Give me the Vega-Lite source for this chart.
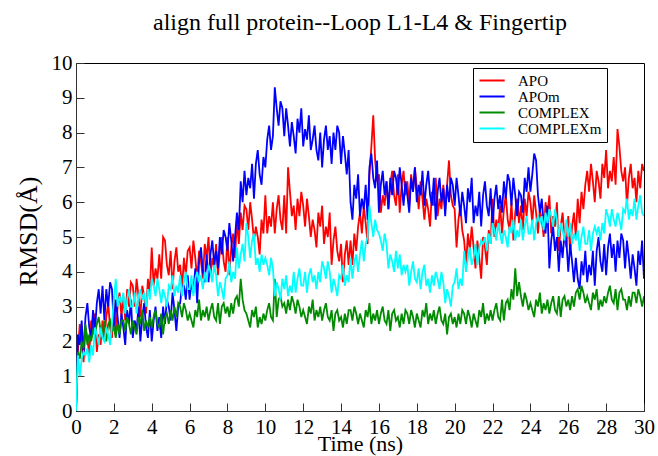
{
  "$schema": "https://vega.github.io/schema/vega-lite/v6.json",
  "width": 568,
  "height": 348,
  "autosize": "none",
  "padding": {"left": 76, "top": 63, "right": 14, "bottom": 45},
  "title": {
    "text": "align full protein--Loop L1-L4 & Fingertip",
    "font": "Liberation Serif",
    "fontSize": 24,
    "fontWeight": "normal",
    "color": "black",
    "anchor": "middle",
    "frame": "group",
    "offset": 17
  },
  "config": {
    "view": {"stroke": "black", "strokeWidth": 1},
    "axis": {
      "grid": false,
      "domainColor": "#333",
      "tickColor": "#333",
      "tickSize": -8,
      "labelFont": "Liberation Serif",
      "labelFontSize": 21,
      "labelColor": "black",
      "titleFont": "Liberation Serif",
      "titleFontWeight": "normal",
      "titleColor": "black"
    }
  },
  "data": {
    "values": [
      {"t":0,"APO":0,"APOm":0,"COMPLEX":0,"COMPLEXm":0},
      {"t":0.1,"APO":1.7,"APOm":2.2,"COMPLEX":1.7,"COMPLEXm":1.6},
      {"t":0.2,"APO":2.5,"APOm":1.9,"COMPLEX":1.5,"COMPLEXm":1.0},
      {"t":0.3,"APO":2.0,"APOm":2.6,"COMPLEX":2.0,"COMPLEXm":1.5},
      {"t":0.4,"APO":1.4,"APOm":1.6,"COMPLEX":1.8,"COMPLEXm":1.7},
      {"t":0.5,"APO":2.4,"APOm":2.7,"COMPLEX":2.5,"COMPLEXm":1.6},
      {"t":0.6,"APO":2.1,"APOm":3.1,"COMPLEX":1.9,"COMPLEXm":1.8},
      {"t":0.7,"APO":1.6,"APOm":2.4,"COMPLEX":2.2,"COMPLEXm":1.4},
      {"t":0.8,"APO":2.6,"APOm":2.1,"COMPLEX":2.0,"COMPLEXm":1.9},
      {"t":0.9,"APO":2.2,"APOm":2.9,"COMPLEX":2.3,"COMPLEXm":1.6},
      {"t":1.0,"APO":2.8,"APOm":2.3,"COMPLEX":2.2,"COMPLEXm":2.4},
      {"t":1.1,"APO":1.7,"APOm":3.1,"COMPLEX":2.5,"COMPLEXm":2.2},
      {"t":1.2,"APO":2.2,"APOm":3.5,"COMPLEX":2.7,"COMPLEXm":1.9},
      {"t":1.3,"APO":1.9,"APOm":2.8,"COMPLEX":2.3,"COMPLEXm":2.4},
      {"t":1.4,"APO":2.6,"APOm":3.6,"COMPLEX":2.2,"COMPLEXm":2.1},
      {"t":1.5,"APO":2.0,"APOm":2.6,"COMPLEX":2.6,"COMPLEXm":2.0},
      {"t":1.6,"APO":2.7,"APOm":3.5,"COMPLEX":2.0,"COMPLEXm":2.4},
      {"t":1.7,"APO":3.1,"APOm":3.0,"COMPLEX":2.5,"COMPLEXm":2.2},
      {"t":1.8,"APO":2.4,"APOm":3.7,"COMPLEX":2.6,"COMPLEXm":1.9},
      {"t":1.9,"APO":2.1,"APOm":3.5,"COMPLEX":2.3,"COMPLEXm":2.5},
      {"t":2.0,"APO":3.3,"APOm":2.4,"COMPLEX":2.4,"COMPLEXm":3.2},
      {"t":2.1,"APO":2.2,"APOm":3.2,"COMPLEX":2.1,"COMPLEXm":3.8},
      {"t":2.2,"APO":3.0,"APOm":2.7,"COMPLEX":2.5,"COMPLEXm":3.0},
      {"t":2.3,"APO":3.4,"APOm":2.1,"COMPLEX":2.2,"COMPLEXm":3.3},
      {"t":2.4,"APO":2.7,"APOm":2.8,"COMPLEX":2.6,"COMPLEXm":3.1},
      {"t":2.5,"APO":3.3,"APOm":2.4,"COMPLEX":2.6,"COMPLEXm":3.4},
      {"t":2.6,"APO":2.6,"APOm":1.9,"COMPLEX":2.3,"COMPLEXm":2.8},
      {"t":2.7,"APO":3.5,"APOm":2.9,"COMPLEX":2.7,"COMPLEXm":3.2},
      {"t":2.8,"APO":3.0,"APOm":2.5,"COMPLEX":2.5,"COMPLEXm":3.5},
      {"t":2.9,"APO":3.7,"APOm":3.2,"COMPLEX":2.2,"COMPLEXm":3.0},
      {"t":3.0,"APO":3.6,"APOm":2.1,"COMPLEX":2.6,"COMPLEXm":3.0},
      {"t":3.1,"APO":3.0,"APOm":2.6,"COMPLEX":2.4,"COMPLEXm":3.4},
      {"t":3.2,"APO":3.8,"APOm":2.3,"COMPLEX":2.2,"COMPLEXm":2.8},
      {"t":3.3,"APO":3.3,"APOm":3.0,"COMPLEX":2.7,"COMPLEXm":3.3},
      {"t":3.4,"APO":2.7,"APOm":2.0,"COMPLEX":2.5,"COMPLEXm":3.5},
      {"t":3.5,"APO":3.6,"APOm":2.7,"COMPLEX":2.9,"COMPLEXm":3.2},
      {"t":3.6,"APO":3.3,"APOm":3.1,"COMPLEX":2.3,"COMPLEXm":3.4},
      {"t":3.7,"APO":2.8,"APOm":2.4,"COMPLEX":2.6,"COMPLEXm":3.0},
      {"t":3.8,"APO":3.8,"APOm":2.1,"COMPLEX":2.4,"COMPLEXm":3.5},
      {"t":3.9,"APO":3.4,"APOm":2.9,"COMPLEX":2.7,"COMPLEXm":3.2},
      {"t":4.0,"APO":4.7,"APOm":2.0,"COMPLEX":2.4,"COMPLEXm":3.8},
      {"t":4.1,"APO":3.6,"APOm":2.6,"COMPLEX":2.7,"COMPLEXm":3.6},
      {"t":4.2,"APO":4.1,"APOm":3.0,"COMPLEX":2.9,"COMPLEXm":3.3},
      {"t":4.3,"APO":3.8,"APOm":2.3,"COMPLEX":2.5,"COMPLEXm":3.8},
      {"t":4.4,"APO":4.5,"APOm":2.7,"COMPLEX":2.4,"COMPLEXm":3.5},
      {"t":4.5,"APO":3.8,"APOm":2.1,"COMPLEX":2.8,"COMPLEXm":3.1},
      {"t":4.6,"APO":5.0,"APOm":3.0,"COMPLEX":2.2,"COMPLEXm":3.5},
      {"t":4.7,"APO":4.9,"APOm":2.5,"COMPLEX":2.7,"COMPLEXm":3.3},
      {"t":4.8,"APO":4.2,"APOm":3.2,"COMPLEX":2.8,"COMPLEXm":3.0},
      {"t":4.9,"APO":3.9,"APOm":3.0,"COMPLEX":2.5,"COMPLEXm":3.6},
      {"t":5.0,"APO":4.6,"APOm":2.6,"COMPLEX":2.9,"COMPLEXm":3.5},
      {"t":5.1,"APO":3.5,"APOm":3.4,"COMPLEX":2.6,"COMPLEXm":3.9},
      {"t":5.2,"APO":4.3,"APOm":2.9,"COMPLEX":3.0,"COMPLEXm":3.3},
      {"t":5.3,"APO":4.7,"APOm":2.3,"COMPLEX":2.7,"COMPLEXm":3.6},
      {"t":5.4,"APO":4.0,"APOm":3.0,"COMPLEX":3.1,"COMPLEXm":3.4},
      {"t":5.5,"APO":4.2,"APOm":3.1,"COMPLEX":3.0,"COMPLEXm":3.9},
      {"t":5.6,"APO":3.5,"APOm":3.6,"COMPLEX":2.7,"COMPLEXm":3.3},
      {"t":5.7,"APO":4.4,"APOm":3.6,"COMPLEX":3.1,"COMPLEXm":3.7},
      {"t":5.8,"APO":3.9,"APOm":3.2,"COMPLEX":2.9,"COMPLEXm":4.0},
      {"t":5.9,"APO":4.6,"APOm":3.9,"COMPLEX":2.6,"COMPLEXm":3.5},
      {"t":6.0,"APO":4.7,"APOm":3.2,"COMPLEX":2.8,"COMPLEXm":3.5},
      {"t":6.1,"APO":4.1,"APOm":3.7,"COMPLEX":2.6,"COMPLEXm":3.9},
      {"t":6.2,"APO":4.9,"APOm":3.4,"COMPLEX":2.4,"COMPLEXm":3.3},
      {"t":6.3,"APO":4.4,"APOm":4.1,"COMPLEX":2.9,"COMPLEXm":3.8},
      {"t":6.4,"APO":3.8,"APOm":3.1,"COMPLEX":2.7,"COMPLEXm":4.0},
      {"t":6.5,"APO":4.6,"APOm":4.3,"COMPLEX":3.2,"COMPLEXm":3.7},
      {"t":6.6,"APO":4.3,"APOm":4.7,"COMPLEX":2.6,"COMPLEXm":3.9},
      {"t":6.7,"APO":3.8,"APOm":4.0,"COMPLEX":2.9,"COMPLEXm":3.5},
      {"t":6.8,"APO":4.8,"APOm":3.7,"COMPLEX":2.7,"COMPLEXm":4.0},
      {"t":6.9,"APO":4.4,"APOm":4.5,"COMPLEX":3.0,"COMPLEXm":3.7},
      {"t":7.0,"APO":5.0,"APOm":3.7,"COMPLEX":2.6,"COMPLEXm":4.2},
      {"t":7.1,"APO":3.9,"APOm":4.5,"COMPLEX":2.9,"COMPLEXm":4.0},
      {"t":7.2,"APO":4.4,"APOm":4.9,"COMPLEX":3.1,"COMPLEXm":3.7},
      {"t":7.3,"APO":4.1,"APOm":4.2,"COMPLEX":2.7,"COMPLEXm":4.2},
      {"t":7.4,"APO":4.8,"APOm":4.6,"COMPLEX":2.6,"COMPLEXm":3.9},
      {"t":7.5,"APO":3.9,"APOm":4.1,"COMPLEX":3.1,"COMPLEXm":3.3},
      {"t":7.6,"APO":4.6,"APOm":5.0,"COMPLEX":2.5,"COMPLEXm":3.7},
      {"t":7.7,"APO":5.0,"APOm":4.5,"COMPLEX":3.0,"COMPLEXm":3.5},
      {"t":7.8,"APO":4.3,"APOm":5.2,"COMPLEX":3.1,"COMPLEXm":3.2},
      {"t":7.9,"APO":4.0,"APOm":5.0,"COMPLEX":2.8,"COMPLEXm":3.8},
      {"t":8.0,"APO":5.0,"APOm":4.6,"COMPLEX":3.0,"COMPLEXm":3.9},
      {"t":8.1,"APO":3.9,"APOm":5.4,"COMPLEX":2.7,"COMPLEXm":4.3},
      {"t":8.2,"APO":4.7,"APOm":4.9,"COMPLEX":3.1,"COMPLEXm":3.7},
      {"t":8.3,"APO":5.1,"APOm":4.3,"COMPLEX":2.8,"COMPLEXm":4.0},
      {"t":8.4,"APO":4.4,"APOm":5.0,"COMPLEX":3.2,"COMPLEXm":3.8},
      {"t":8.5,"APO":5.5,"APOm":5.7,"COMPLEX":3.3,"COMPLEXm":4.7},
      {"t":8.6,"APO":4.8,"APOm":5.2,"COMPLEX":3.0,"COMPLEXm":4.1},
      {"t":8.7,"APO":5.7,"APOm":6.6,"COMPLEX":3.8,"COMPLEXm":4.5},
      {"t":8.8,"APO":5.2,"APOm":6.0,"COMPLEX":3.2,"COMPLEXm":4.8},
      {"t":8.9,"APO":5.9,"APOm":6.9,"COMPLEX":2.9,"COMPLEXm":4.3},
      {"t":9.0,"APO":5.8,"APOm":6.2,"COMPLEX":2.8,"COMPLEXm":5.4},
      {"t":9.1,"APO":5.2,"APOm":6.7,"COMPLEX":2.6,"COMPLEXm":5.0},
      {"t":9.2,"APO":6.0,"APOm":6.4,"COMPLEX":2.4,"COMPLEXm":4.4},
      {"t":9.3,"APO":5.5,"APOm":7.1,"COMPLEX":2.9,"COMPLEXm":4.9},
      {"t":9.4,"APO":4.9,"APOm":6.1,"COMPLEX":2.7,"COMPLEXm":5.1},
      {"t":9.5,"APO":5.3,"APOm":7.1,"COMPLEX":3.0,"COMPLEXm":4.2},
      {"t":9.6,"APO":5.0,"APOm":7.5,"COMPLEX":2.4,"COMPLEXm":4.4},
      {"t":9.7,"APO":4.5,"APOm":6.8,"COMPLEX":2.7,"COMPLEXm":4.0},
      {"t":9.8,"APO":5.5,"APOm":6.5,"COMPLEX":2.5,"COMPLEXm":4.5},
      {"t":9.9,"APO":5.1,"APOm":7.3,"COMPLEX":2.8,"COMPLEXm":4.2},
      {"t":10.0,"APO":6.2,"APOm":7.0,"COMPLEX":2.6,"COMPLEXm":4.4},
      {"t":10.1,"APO":5.1,"APOm":7.8,"COMPLEX":2.9,"COMPLEXm":4.2},
      {"t":10.2,"APO":5.6,"APOm":8.2,"COMPLEX":3.1,"COMPLEXm":3.9},
      {"t":10.3,"APO":5.3,"APOm":7.5,"COMPLEX":2.7,"COMPLEXm":4.4},
      {"t":10.4,"APO":6.0,"APOm":7.9,"COMPLEX":2.6,"COMPLEXm":4.1},
      {"t":10.5,"APO":5.1,"APOm":9.3,"COMPLEX":3.8,"COMPLEXm":3.3},
      {"t":10.6,"APO":5.8,"APOm":8.7,"COMPLEX":2.7,"COMPLEXm":3.7},
      {"t":10.7,"APO":6.2,"APOm":8.2,"COMPLEX":3.2,"COMPLEXm":3.5},
      {"t":10.8,"APO":5.5,"APOm":8.9,"COMPLEX":3.3,"COMPLEXm":3.2},
      {"t":10.9,"APO":5.2,"APOm":8.7,"COMPLEX":3.0,"COMPLEXm":3.8},
      {"t":11.0,"APO":6.2,"APOm":7.9,"COMPLEX":3.1,"COMPLEXm":3.5},
      {"t":11.1,"APO":5.1,"APOm":8.7,"COMPLEX":2.8,"COMPLEXm":3.9},
      {"t":11.2,"APO":7.0,"APOm":8.2,"COMPLEX":3.2,"COMPLEXm":3.3},
      {"t":11.3,"APO":6.3,"APOm":7.6,"COMPLEX":2.9,"COMPLEXm":3.6},
      {"t":11.4,"APO":5.6,"APOm":8.3,"COMPLEX":3.3,"COMPLEXm":3.4},
      {"t":11.5,"APO":5.9,"APOm":7.9,"COMPLEX":3.1,"COMPLEXm":4.0},
      {"t":11.6,"APO":5.2,"APOm":7.4,"COMPLEX":2.8,"COMPLEXm":3.4},
      {"t":11.7,"APO":6.1,"APOm":8.4,"COMPLEX":3.2,"COMPLEXm":3.8},
      {"t":11.8,"APO":5.6,"APOm":8.0,"COMPLEX":3.0,"COMPLEXm":4.1},
      {"t":11.9,"APO":6.3,"APOm":8.7,"COMPLEX":2.7,"COMPLEXm":3.6},
      {"t":12.0,"APO":5.9,"APOm":7.6,"COMPLEX":2.9,"COMPLEXm":3.6},
      {"t":12.1,"APO":5.3,"APOm":8.1,"COMPLEX":2.7,"COMPLEXm":4.0},
      {"t":12.2,"APO":6.1,"APOm":7.8,"COMPLEX":2.5,"COMPLEXm":3.4},
      {"t":12.3,"APO":5.6,"APOm":8.5,"COMPLEX":3.0,"COMPLEXm":3.9},
      {"t":12.4,"APO":5.0,"APOm":7.5,"COMPLEX":2.8,"COMPLEXm":4.1},
      {"t":12.5,"APO":5.5,"APOm":7.8,"COMPLEX":3.2,"COMPLEXm":3.7},
      {"t":12.6,"APO":5.2,"APOm":8.2,"COMPLEX":2.6,"COMPLEXm":3.9},
      {"t":12.7,"APO":4.7,"APOm":7.5,"COMPLEX":2.9,"COMPLEXm":3.5},
      {"t":12.8,"APO":5.7,"APOm":7.2,"COMPLEX":2.7,"COMPLEXm":4.0},
      {"t":12.9,"APO":5.3,"APOm":8.0,"COMPLEX":3.0,"COMPLEXm":3.7},
      {"t":13.0,"APO":5.9,"APOm":7.0,"COMPLEX":2.6,"COMPLEXm":4.3},
      {"t":13.1,"APO":4.8,"APOm":7.8,"COMPLEX":2.9,"COMPLEXm":4.1},
      {"t":13.2,"APO":5.3,"APOm":8.2,"COMPLEX":3.1,"COMPLEXm":3.8},
      {"t":13.3,"APO":5.0,"APOm":7.5,"COMPLEX":2.7,"COMPLEXm":4.3},
      {"t":13.4,"APO":5.7,"APOm":7.9,"COMPLEX":2.6,"COMPLEXm":4.0},
      {"t":13.5,"APO":4.2,"APOm":7.1,"COMPLEX":2.9,"COMPLEXm":3.4},
      {"t":13.6,"APO":4.9,"APOm":8.0,"COMPLEX":2.3,"COMPLEXm":3.8},
      {"t":13.7,"APO":5.3,"APOm":7.5,"COMPLEX":2.8,"COMPLEXm":3.6},
      {"t":13.8,"APO":4.6,"APOm":8.2,"COMPLEX":2.9,"COMPLEXm":3.3},
      {"t":13.9,"APO":4.3,"APOm":8.0,"COMPLEX":2.6,"COMPLEXm":3.9},
      {"t":14.0,"APO":4.8,"APOm":7.1,"COMPLEX":2.7,"COMPLEXm":3.8},
      {"t":14.1,"APO":3.7,"APOm":7.9,"COMPLEX":2.4,"COMPLEXm":4.2},
      {"t":14.2,"APO":4.5,"APOm":7.4,"COMPLEX":2.8,"COMPLEXm":3.6},
      {"t":14.3,"APO":4.9,"APOm":6.8,"COMPLEX":2.5,"COMPLEXm":3.9},
      {"t":14.4,"APO":4.2,"APOm":7.5,"COMPLEX":2.9,"COMPLEXm":3.7},
      {"t":14.5,"APO":4.9,"APOm":6.0,"COMPLEX":2.9,"COMPLEXm":4.4},
      {"t":14.6,"APO":4.2,"APOm":5.5,"COMPLEX":2.6,"COMPLEXm":3.8},
      {"t":14.7,"APO":5.1,"APOm":6.5,"COMPLEX":3.0,"COMPLEXm":4.3},
      {"t":14.8,"APO":4.6,"APOm":6.1,"COMPLEX":2.8,"COMPLEXm":4.5},
      {"t":14.9,"APO":5.3,"APOm":6.8,"COMPLEX":2.5,"COMPLEXm":4.0},
      {"t":15.0,"APO":5.7,"APOm":5.6,"COMPLEX":2.8,"COMPLEXm":4.5},
      {"t":15.1,"APO":5.1,"APOm":6.1,"COMPLEX":2.6,"COMPLEXm":4.9},
      {"t":15.2,"APO":5.9,"APOm":5.8,"COMPLEX":2.4,"COMPLEXm":4.3},
      {"t":15.3,"APO":5.4,"APOm":6.5,"COMPLEX":2.9,"COMPLEXm":4.8},
      {"t":15.4,"APO":4.8,"APOm":5.5,"COMPLEX":2.7,"COMPLEXm":5.0},
      {"t":15.5,"APO":6.8,"APOm":7.0,"COMPLEX":3.1,"COMPLEXm":5.9},
      {"t":15.6,"APO":7.6,"APOm":7.4,"COMPLEX":2.5,"COMPLEXm":5.4},
      {"t":15.7,"APO":8.5,"APOm":6.7,"COMPLEX":2.8,"COMPLEXm":5.0},
      {"t":15.8,"APO":7.2,"APOm":6.4,"COMPLEX":2.6,"COMPLEXm":5.5},
      {"t":15.9,"APO":6.6,"APOm":7.2,"COMPLEX":2.9,"COMPLEXm":5.2},
      {"t":16.0,"APO":6.8,"APOm":5.7,"COMPLEX":2.5,"COMPLEXm":5.1},
      {"t":16.1,"APO":5.7,"APOm":6.5,"COMPLEX":2.8,"COMPLEXm":4.9},
      {"t":16.2,"APO":6.2,"APOm":6.9,"COMPLEX":3.0,"COMPLEXm":4.6},
      {"t":16.3,"APO":5.9,"APOm":6.2,"COMPLEX":2.6,"COMPLEXm":5.1},
      {"t":16.4,"APO":6.6,"APOm":6.6,"COMPLEX":2.5,"COMPLEXm":4.8},
      {"t":16.5,"APO":5.8,"APOm":5.8,"COMPLEX":2.9,"COMPLEXm":4.1},
      {"t":16.6,"APO":6.5,"APOm":6.7,"COMPLEX":2.3,"COMPLEXm":4.5},
      {"t":16.7,"APO":6.9,"APOm":6.2,"COMPLEX":2.8,"COMPLEXm":4.3},
      {"t":16.8,"APO":6.2,"APOm":6.9,"COMPLEX":2.9,"COMPLEXm":4.0},
      {"t":16.9,"APO":5.9,"APOm":6.7,"COMPLEX":2.6,"COMPLEXm":4.6},
      {"t":17.0,"APO":6.8,"APOm":6.2,"COMPLEX":2.7,"COMPLEXm":4.1},
      {"t":17.1,"APO":5.7,"APOm":7.0,"COMPLEX":2.4,"COMPLEXm":4.5},
      {"t":17.2,"APO":6.5,"APOm":6.5,"COMPLEX":2.8,"COMPLEXm":3.9},
      {"t":17.3,"APO":6.9,"APOm":5.9,"COMPLEX":2.5,"COMPLEXm":4.2},
      {"t":17.4,"APO":6.2,"APOm":6.6,"COMPLEX":2.9,"COMPLEXm":4.0},
      {"t":17.5,"APO":6.6,"APOm":6.2,"COMPLEX":2.8,"COMPLEXm":4.2},
      {"t":17.6,"APO":5.9,"APOm":5.7,"COMPLEX":2.5,"COMPLEXm":3.6},
      {"t":17.7,"APO":6.8,"APOm":6.7,"COMPLEX":2.9,"COMPLEXm":4.0},
      {"t":17.8,"APO":6.3,"APOm":6.3,"COMPLEX":2.7,"COMPLEXm":4.3},
      {"t":17.9,"APO":7.0,"APOm":7.0,"COMPLEX":2.4,"COMPLEXm":3.8},
      {"t":18.0,"APO":6.4,"APOm":6.0,"COMPLEX":2.8,"COMPLEXm":3.7},
      {"t":18.1,"APO":5.8,"APOm":6.5,"COMPLEX":2.6,"COMPLEXm":4.1},
      {"t":18.2,"APO":6.6,"APOm":6.2,"COMPLEX":2.4,"COMPLEXm":3.5},
      {"t":18.3,"APO":6.1,"APOm":6.9,"COMPLEX":2.9,"COMPLEXm":4.0},
      {"t":18.4,"APO":5.5,"APOm":5.9,"COMPLEX":2.7,"COMPLEXm":4.2},
      {"t":18.5,"APO":6.1,"APOm":6.5,"COMPLEX":3.1,"COMPLEXm":3.6},
      {"t":18.6,"APO":5.8,"APOm":6.9,"COMPLEX":2.5,"COMPLEXm":3.8},
      {"t":18.7,"APO":5.3,"APOm":6.2,"COMPLEX":2.8,"COMPLEXm":3.4},
      {"t":18.8,"APO":6.3,"APOm":5.9,"COMPLEX":2.6,"COMPLEXm":3.9},
      {"t":18.9,"APO":5.9,"APOm":6.7,"COMPLEX":2.9,"COMPLEXm":3.6},
      {"t":19.0,"APO":6.7,"APOm":5.5,"COMPLEX":2.5,"COMPLEXm":4.0},
      {"t":19.1,"APO":5.6,"APOm":6.3,"COMPLEX":2.8,"COMPLEXm":3.8},
      {"t":19.2,"APO":6.1,"APOm":6.7,"COMPLEX":3.0,"COMPLEXm":3.5},
      {"t":19.3,"APO":5.8,"APOm":6.0,"COMPLEX":2.6,"COMPLEXm":4.0},
      {"t":19.4,"APO":6.5,"APOm":6.4,"COMPLEX":2.5,"COMPLEXm":3.7},
      {"t":19.5,"APO":5.8,"APOm":5.6,"COMPLEX":2.8,"COMPLEXm":3.1},
      {"t":19.6,"APO":6.5,"APOm":6.5,"COMPLEX":2.2,"COMPLEXm":3.5},
      {"t":19.7,"APO":7.2,"APOm":6.0,"COMPLEX":2.7,"COMPLEXm":3.3},
      {"t":19.8,"APO":6.2,"APOm":6.7,"COMPLEX":2.8,"COMPLEXm":3.0},
      {"t":19.9,"APO":5.9,"APOm":6.5,"COMPLEX":2.5,"COMPLEXm":3.6},
      {"t":20.0,"APO":5.8,"APOm":5.9,"COMPLEX":2.7,"COMPLEXm":3.7},
      {"t":20.1,"APO":4.7,"APOm":6.7,"COMPLEX":2.4,"COMPLEXm":4.1},
      {"t":20.2,"APO":5.5,"APOm":6.2,"COMPLEX":2.8,"COMPLEXm":3.5},
      {"t":20.3,"APO":5.9,"APOm":5.6,"COMPLEX":2.5,"COMPLEXm":3.8},
      {"t":20.4,"APO":5.2,"APOm":6.3,"COMPLEX":2.9,"COMPLEXm":3.6},
      {"t":20.5,"APO":4.9,"APOm":5.9,"COMPLEX":2.8,"COMPLEXm":4.6},
      {"t":20.6,"APO":4.2,"APOm":5.4,"COMPLEX":2.5,"COMPLEXm":4.0},
      {"t":20.7,"APO":5.1,"APOm":6.4,"COMPLEX":2.9,"COMPLEXm":4.4},
      {"t":20.8,"APO":4.6,"APOm":6.0,"COMPLEX":2.7,"COMPLEXm":4.7},
      {"t":20.9,"APO":5.3,"APOm":6.7,"COMPLEX":2.4,"COMPLEXm":4.2},
      {"t":21.0,"APO":4.7,"APOm":5.4,"COMPLEX":2.8,"COMPLEXm":4.4},
      {"t":21.1,"APO":4.1,"APOm":5.9,"COMPLEX":2.6,"COMPLEXm":4.8},
      {"t":21.2,"APO":4.9,"APOm":5.6,"COMPLEX":2.4,"COMPLEXm":4.2},
      {"t":21.3,"APO":4.4,"APOm":6.3,"COMPLEX":2.9,"COMPLEXm":4.7},
      {"t":21.4,"APO":3.8,"APOm":5.3,"COMPLEX":2.7,"COMPLEXm":4.9},
      {"t":21.5,"APO":5.0,"APOm":6.2,"COMPLEX":3.1,"COMPLEXm":4.8},
      {"t":21.6,"APO":4.7,"APOm":6.6,"COMPLEX":2.5,"COMPLEXm":5.0},
      {"t":21.7,"APO":4.2,"APOm":5.9,"COMPLEX":2.8,"COMPLEXm":4.6},
      {"t":21.8,"APO":5.2,"APOm":5.6,"COMPLEX":2.6,"COMPLEXm":5.1},
      {"t":21.9,"APO":4.8,"APOm":6.4,"COMPLEX":2.9,"COMPLEXm":4.8},
      {"t":22.0,"APO":6.1,"APOm":5.3,"COMPLEX":2.6,"COMPLEXm":5.4},
      {"t":22.1,"APO":5.0,"APOm":6.1,"COMPLEX":2.9,"COMPLEXm":5.2},
      {"t":22.2,"APO":5.5,"APOm":6.5,"COMPLEX":3.1,"COMPLEXm":4.9},
      {"t":22.3,"APO":5.2,"APOm":5.8,"COMPLEX":2.7,"COMPLEXm":5.4},
      {"t":22.4,"APO":5.9,"APOm":6.2,"COMPLEX":2.6,"COMPLEXm":5.1},
      {"t":22.5,"APO":5.1,"APOm":5.7,"COMPLEX":3.2,"COMPLEXm":4.8},
      {"t":22.6,"APO":5.8,"APOm":6.6,"COMPLEX":2.6,"COMPLEXm":5.2},
      {"t":22.7,"APO":6.2,"APOm":6.1,"COMPLEX":3.1,"COMPLEXm":5.0},
      {"t":22.8,"APO":5.5,"APOm":6.8,"COMPLEX":3.2,"COMPLEXm":4.7},
      {"t":22.9,"APO":5.2,"APOm":6.6,"COMPLEX":2.9,"COMPLEXm":5.3},
      {"t":23.0,"APO":6.0,"APOm":5.9,"COMPLEX":3.5,"COMPLEXm":5.1},
      {"t":23.1,"APO":4.9,"APOm":6.7,"COMPLEX":3.2,"COMPLEXm":5.5},
      {"t":23.2,"APO":5.7,"APOm":6.2,"COMPLEX":4.1,"COMPLEXm":4.9},
      {"t":23.3,"APO":6.1,"APOm":5.6,"COMPLEX":3.3,"COMPLEXm":5.2},
      {"t":23.4,"APO":5.4,"APOm":6.3,"COMPLEX":3.7,"COMPLEXm":5.0},
      {"t":23.5,"APO":5.9,"APOm":6.2,"COMPLEX":3.3,"COMPLEXm":5.5},
      {"t":23.6,"APO":5.2,"APOm":5.7,"COMPLEX":3.0,"COMPLEXm":4.9},
      {"t":23.7,"APO":6.1,"APOm":6.7,"COMPLEX":3.4,"COMPLEXm":5.3},
      {"t":23.8,"APO":5.6,"APOm":6.3,"COMPLEX":3.2,"COMPLEXm":5.6},
      {"t":23.9,"APO":6.3,"APOm":7.0,"COMPLEX":2.9,"COMPLEXm":5.1},
      {"t":24.0,"APO":6.0,"APOm":6.3,"COMPLEX":3.1,"COMPLEXm":5.1},
      {"t":24.1,"APO":5.4,"APOm":6.8,"COMPLEX":2.9,"COMPLEXm":5.5},
      {"t":24.2,"APO":6.2,"APOm":7.4,"COMPLEX":2.7,"COMPLEXm":4.9},
      {"t":24.3,"APO":5.7,"APOm":7.2,"COMPLEX":3.2,"COMPLEXm":5.4},
      {"t":24.4,"APO":5.1,"APOm":6.2,"COMPLEX":3.0,"COMPLEXm":5.6},
      {"t":24.5,"APO":5.8,"APOm":5.7,"COMPLEX":3.4,"COMPLEXm":5.4},
      {"t":24.6,"APO":5.5,"APOm":6.1,"COMPLEX":2.8,"COMPLEXm":5.6},
      {"t":24.7,"APO":5.0,"APOm":5.4,"COMPLEX":3.1,"COMPLEXm":5.2},
      {"t":24.8,"APO":6.0,"APOm":5.1,"COMPLEX":2.9,"COMPLEXm":5.7},
      {"t":24.9,"APO":5.6,"APOm":5.9,"COMPLEX":3.2,"COMPLEXm":5.4},
      {"t":25.0,"APO":6.2,"APOm":4.1,"COMPLEX":2.8,"COMPLEXm":5.8},
      {"t":25.1,"APO":5.1,"APOm":4.9,"COMPLEX":3.1,"COMPLEXm":5.6},
      {"t":25.2,"APO":5.6,"APOm":5.3,"COMPLEX":3.3,"COMPLEXm":5.3},
      {"t":25.3,"APO":5.3,"APOm":4.6,"COMPLEX":2.9,"COMPLEXm":5.8},
      {"t":25.4,"APO":6.0,"APOm":5.0,"COMPLEX":2.8,"COMPLEXm":5.5},
      {"t":25.5,"APO":4.6,"APOm":4.0,"COMPLEX":3.3,"COMPLEXm":5.0},
      {"t":25.6,"APO":5.3,"APOm":4.9,"COMPLEX":2.7,"COMPLEXm":5.4},
      {"t":25.7,"APO":5.7,"APOm":4.4,"COMPLEX":3.2,"COMPLEXm":5.2},
      {"t":25.8,"APO":5.0,"APOm":5.1,"COMPLEX":3.3,"COMPLEXm":4.9},
      {"t":25.9,"APO":4.7,"APOm":4.9,"COMPLEX":3.0,"COMPLEXm":5.5},
      {"t":26.0,"APO":5.6,"APOm":4.0,"COMPLEX":3.2,"COMPLEXm":5.0},
      {"t":26.1,"APO":4.5,"APOm":4.8,"COMPLEX":2.9,"COMPLEXm":5.4},
      {"t":26.2,"APO":5.3,"APOm":4.3,"COMPLEX":3.3,"COMPLEXm":4.8},
      {"t":26.3,"APO":5.7,"APOm":3.7,"COMPLEX":3.0,"COMPLEXm":5.1},
      {"t":26.4,"APO":5.0,"APOm":4.4,"COMPLEX":3.4,"COMPLEXm":4.9},
      {"t":26.5,"APO":6.1,"APOm":3.8,"COMPLEX":3.5,"COMPLEXm":5.2},
      {"t":26.6,"APO":5.4,"APOm":3.5,"COMPLEX":3.2,"COMPLEXm":4.6},
      {"t":26.7,"APO":6.3,"APOm":4.3,"COMPLEX":3.6,"COMPLEXm":5.0},
      {"t":26.8,"APO":5.8,"APOm":3.9,"COMPLEX":3.4,"COMPLEXm":5.3},
      {"t":26.9,"APO":6.5,"APOm":4.6,"COMPLEX":3.1,"COMPLEXm":4.8},
      {"t":27.0,"APO":6.9,"APOm":3.7,"COMPLEX":3.3,"COMPLEXm":4.8},
      {"t":27.1,"APO":6.3,"APOm":4.2,"COMPLEX":3.1,"COMPLEXm":5.2},
      {"t":27.2,"APO":7.1,"APOm":3.9,"COMPLEX":2.9,"COMPLEXm":4.6},
      {"t":27.3,"APO":6.6,"APOm":4.6,"COMPLEX":3.4,"COMPLEXm":5.1},
      {"t":27.4,"APO":6.0,"APOm":3.6,"COMPLEX":3.2,"COMPLEXm":5.3},
      {"t":27.5,"APO":6.9,"APOm":4.6,"COMPLEX":3.5,"COMPLEXm":5.1},
      {"t":27.6,"APO":6.6,"APOm":5.0,"COMPLEX":2.9,"COMPLEXm":5.3},
      {"t":27.7,"APO":6.1,"APOm":4.3,"COMPLEX":3.2,"COMPLEXm":4.9},
      {"t":27.8,"APO":7.1,"APOm":4.0,"COMPLEX":3.0,"COMPLEXm":5.4},
      {"t":27.9,"APO":6.7,"APOm":4.8,"COMPLEX":3.3,"COMPLEXm":5.1},
      {"t":28.0,"APO":7.5,"APOm":3.9,"COMPLEX":3.1,"COMPLEXm":5.8},
      {"t":28.1,"APO":6.4,"APOm":4.7,"COMPLEX":3.4,"COMPLEXm":5.6},
      {"t":28.2,"APO":6.9,"APOm":5.1,"COMPLEX":3.6,"COMPLEXm":5.3},
      {"t":28.3,"APO":6.6,"APOm":4.4,"COMPLEX":3.2,"COMPLEXm":5.8},
      {"t":28.4,"APO":7.3,"APOm":4.8,"COMPLEX":3.1,"COMPLEXm":5.5},
      {"t":28.5,"APO":6.5,"APOm":4.0,"COMPLEX":3.5,"COMPLEXm":5.3},
      {"t":28.6,"APO":8.1,"APOm":4.9,"COMPLEX":2.9,"COMPLEXm":5.7},
      {"t":28.7,"APO":7.6,"APOm":4.4,"COMPLEX":3.4,"COMPLEXm":5.5},
      {"t":28.8,"APO":6.9,"APOm":5.1,"COMPLEX":3.5,"COMPLEXm":5.2},
      {"t":28.9,"APO":6.6,"APOm":4.9,"COMPLEX":3.2,"COMPLEXm":5.8},
      {"t":29.0,"APO":7.0,"APOm":4.1,"COMPLEX":3.2,"COMPLEXm":5.7},
      {"t":29.1,"APO":5.9,"APOm":4.9,"COMPLEX":2.9,"COMPLEXm":6.1},
      {"t":29.2,"APO":6.7,"APOm":4.4,"COMPLEX":3.3,"COMPLEXm":5.5},
      {"t":29.3,"APO":7.1,"APOm":3.8,"COMPLEX":3.0,"COMPLEXm":5.8},
      {"t":29.4,"APO":6.4,"APOm":4.5,"COMPLEX":3.4,"COMPLEXm":5.6},
      {"t":29.5,"APO":6.7,"APOm":4.1,"COMPLEX":3.4,"COMPLEXm":6.1},
      {"t":29.6,"APO":6.0,"APOm":3.6,"COMPLEX":3.1,"COMPLEXm":5.5},
      {"t":29.7,"APO":6.9,"APOm":4.6,"COMPLEX":3.5,"COMPLEXm":5.9},
      {"t":29.8,"APO":6.4,"APOm":4.2,"COMPLEX":3.3,"COMPLEXm":6.2},
      {"t":29.9,"APO":7.1,"APOm":4.9,"COMPLEX":3.0,"COMPLEXm":5.7},
      {"t":30.0,"APO":6.9,"APOm":3.8,"COMPLEX":3.3,"COMPLEXm":5.6}
    ]
  },
  "transform": [
    {"fold": ["APO", "APOm", "COMPLEX", "COMPLEXm"], "as": ["series", "rmsd"]}
  ],
  "mark": {"type": "line", "strokeWidth": 1.8, "clip": true},
  "encoding": {
    "x": {
      "field": "t",
      "type": "quantitative",
      "scale": {"domain": [0, 30], "nice": false, "zero": false},
      "axis": {
        "title": "Time (ns)",
        "titleFontSize": 22,
        "values": [0,2,4,6,8,10,12,14,16,18,20,22,24,26,28,30],
        "labelPadding": 13,
        "titlePadding": -4,
        "labelFlush": false,
        "labelOverlap": false
      }
    },
    "y": {
      "field": "rmsd",
      "type": "quantitative",
      "scale": {"domain": [0, 10], "nice": false},
      "axis": {
        "title": "RMSD(Å)",
        "titleFontSize": 26,
        "titleY": 168,
        "values": [0,1,2,3,4,5,6,7,8,9,10],
        "labelPadding": 12,
        "titlePadding": 10,
        "labelFlush": false,
        "labelOverlap": false
      }
    },
    "color": {
      "field": "series",
      "type": "nominal",
      "sort": ["APO", "APOm", "COMPLEX", "COMPLEXm"],
      "scale": {"domain": ["APO", "APOm", "COMPLEX", "COMPLEXm"], "range": ["#ff0000", "#0000ff", "#008b00", "#00ffff"]},
      "legend": {
        "title": null,
        "orient": "none",
        "legendX": 397,
        "legendY": 5,
        "direction": "vertical",
        "fillColor": "white",
        "strokeColor": "black",
        "padding": 5,
        "symbolType": "M-1,0H3.2",
        "symbolSize": 144,
        "symbolStrokeWidth": 2,
        "labelFont": "Liberation Serif",
        "labelFontSize": 15,
        "labelColor": "black",
        "labelOffset": 25,
        "rowPadding": -1
      }
    }
  }
}
